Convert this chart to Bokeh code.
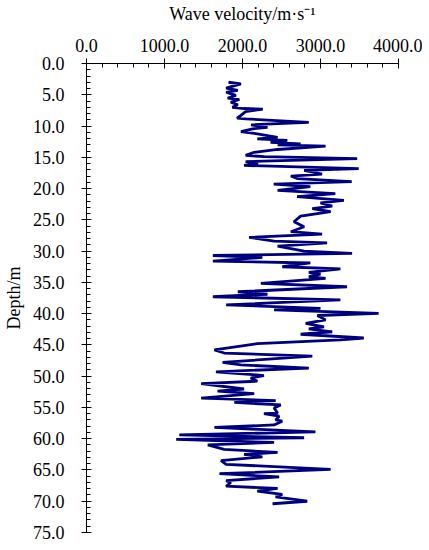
from bokeh.plotting import figure
from bokeh.models import Range1d, SingleIntervalTicker, NumeralTickFormatter, ColumnDataSource
from bokeh.embed import file_html
from bokeh.resources import INLINE

depth = [3.0, 3.25, 3.95, 4.3, 4.6, 5.1, 5.55, 5.76, 6.2, 6.6, 7.0, 7.2, 7.3, 7.7, 8.3, 8.75, 8.85,
         9.4, 9.8, 10.2, 10.45, 10.9, 11.25, 11.8, 12.05, 12.3, 12.6, 12.85, 13.0, 13.2, 13.75,
         14.2, 14.7, 14.9, 15.2, 15.7, 16.0, 16.3, 16.8, 17.1, 17.7, 18.0, 18.4, 18.9, 19.3,
         19.7, 20.3, 20.8, 21.3, 21.9, 22.3, 22.8, 23.2, 23.7, 24.4, 25.3, 26.1, 26.9, 27.3,
         27.8, 28.4, 28.7, 29.2, 30.0, 30.35, 30.7, 31.0, 31.6, 31.9, 32.5, 32.85, 33.4, 33.7,
         34.1, 34.35, 35.15, 35.7, 36.5, 36.9, 37.3, 37.8, 38.6, 39.15, 39.4, 39.95, 40.3, 41.0,
         41.55, 42.1, 42.45, 42.9, 43.3, 43.9, 44.2, 44.8, 45.8, 46.3, 46.8, 47.8, 48.2, 48.7,
         49.3, 49.9, 50.3, 50.8, 51.2, 52.05, 52.4, 52.8, 53.5, 53.9, 54.2, 54.6, 55.1, 55.9,
         56.0, 56.4, 57.0, 57.2, 57.8, 58.2, 58.9, 59.4, 59.85, 60.1, 60.6, 61.0, 61.7, 62.2,
         62.5, 62.9, 63.5, 64.1, 64.9, 65.6, 66.1, 66.7, 67.0, 67.6, 67.95, 68.4, 68.9, 69.3,
         70.0, 70.4]
velocity = [1820, 1980, 1790, 1940, 1790, 1915, 1810, 1960, 1850, 1940, 1870, 2020, 2260, 2040, 1980, 1930, 2040,
            2850, 2110, 2320, 2130, 1980, 2190, 2450, 2190, 2575, 2360, 2745, 2450, 3065, 2450,
            2150, 2040, 2280, 3470, 2040, 2200, 2020, 3490, 2790, 3020, 2620, 2700, 3400, 2400,
            2870, 2450, 3190, 2700, 3300, 3000, 3150, 2895, 3130, 2745, 2660, 2790, 2620, 3020,
            2085, 2405, 3085, 2450, 2790, 3405, 1620, 2255, 1620, 2870, 2510, 3255, 2850, 3000,
            2850, 3065, 2235, 3340, 1940, 2320, 1620, 3255, 1790, 3000, 2405, 3745, 2960, 3065,
            2810, 3045, 2850, 3150, 2745, 3555, 3255, 2190, 1640, 1765, 2895, 1745, 1980, 2850,
            1660, 2275, 2105, 2190, 1470, 2020, 1680, 2150, 1470, 2425, 1895, 2490, 2405, 2450,
            2275, 2470, 2425, 2510, 2405, 1640, 2935, 1190, 2790, 1150, 2405, 1555, 1765, 2450,
            2020, 2255, 1725, 1790, 3130, 1705, 2470, 1790, 1850, 1790, 2450, 2190, 2510, 2425,
            2830, 2385]

FONT = "Liberation Serif"

src = ColumnDataSource(data=dict(v=velocity, d=depth))

p = figure(frame_width=312, frame_height=469, output_backend="svg", toolbar_location=None,
           x_range=Range1d(0, 4000), y_range=Range1d(75, 0),
           x_axis_location="above", y_axis_location="left",
           min_border_left=79, min_border_top=58, min_border_right=24, min_border_bottom=12)
p.outline_line_color = None
p.xgrid.visible = False
p.ygrid.visible = False
p.background_fill_color = "white"
p.border_fill_color = "white"

p.line("v", "d", source=src, line_color="#00007f", line_width=2.8)

xa = p.xaxis[0]
xa.ticker = SingleIntervalTicker(interval=1000, num_minor_ticks=5)
xa.formatter = NumeralTickFormatter(format="0.0")
xa.axis_label = "Wave velocity/m·s⁻¹"

ya = p.yaxis[0]
ya.ticker = SingleIntervalTicker(interval=5, num_minor_ticks=5)
ya.formatter = NumeralTickFormatter(format="0.0")
ya.axis_label = "Depth/m"

for ax in (xa, ya):
    ax.axis_line_color = "black"
    ax.axis_line_width = 1
    ax.major_tick_line_color = "black"
    ax.minor_tick_line_color = "black"
    ax.major_tick_in = 5
    ax.major_tick_out = 5
    ax.minor_tick_in = 4
    ax.minor_tick_out = 0
    ax.major_label_text_font = FONT
    ax.major_label_text_font_size = "18px"
    ax.major_label_text_color = "black"
    ax.axis_label_text_font = FONT
    ax.axis_label_text_font_size = "18px"
    ax.axis_label_text_font_style = "normal"
    ax.axis_label_text_color = "black"

xa.major_label_standoff = 7
xa.axis_label_standoff = 12
ya.major_label_standoff = 17
ya.axis_label_standoff = 6

open("out.html", "w").write(file_html(p, INLINE))
